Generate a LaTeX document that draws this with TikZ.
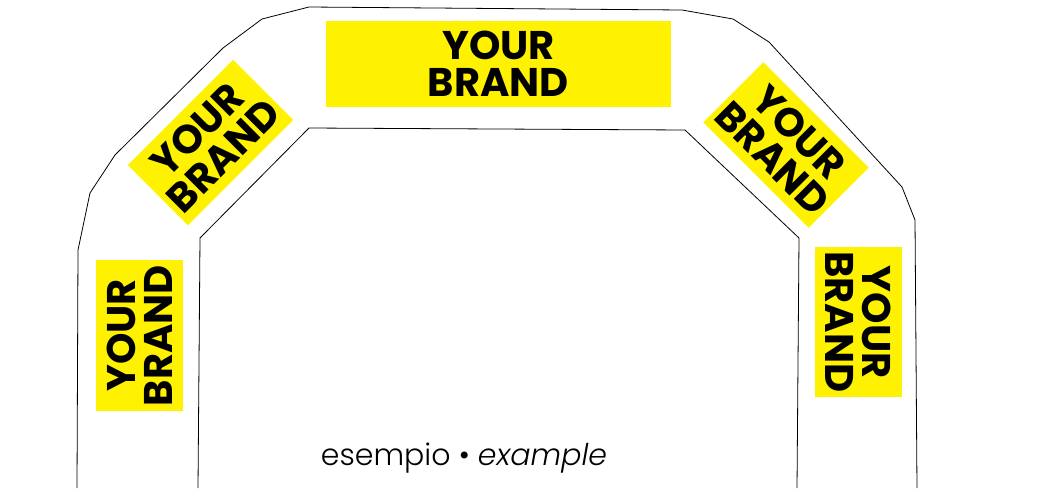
\documentclass[tikz,border=0pt]{standalone}
\usepackage{fontspec}
\newfontfamily\brandfont{Poppins}
\newfontfamily\capfont{Poppins}[UprightFont={* Light},ItalicFont={* Light Italic}]
\definecolor{brandyellow}{RGB}{255,242,0}
\tikzset{
  outline/.style={draw=black,line width=0.8pt,line join=round},
  brandbox/.style={fill=brandyellow,inner sep=0pt,align=center,
    font=\brandfont\bfseries\fontsize{40}{37}\selectfont},
}
\begin{document}
\begin{tikzpicture}[x=1pt,y=-1pt]
\useasboundingbox (0,0) rectangle (1054,488);
% outlines
\draw[outline] (77,488) -- (78,250) -- (90,193) -- (115,155) -- (223,48) -- (262,19) -- (309,7)
  -- (682,10) -- (733,19) -- (769,42) -- (902,187) -- (915,220) -- (917,488);
\draw[outline] (198,488) -- (200,238) -- (309,128) -- (685,130) -- (799,238) -- (797,488);
% brand boxes
\node[brandbox,minimum width=345pt,minimum height=86pt] (top) at (498.5,64) {YOUR\\BRAND};
\node[brandbox,minimum width=149pt,minimum height=85pt,rotate=45] (ul) at (210.5,142.5) {YOUR\\BRAND};
\node[brandbox,minimum width=149pt,minimum height=85pt,rotate=-45] (ur) at (786,145) {YOUR\\BRAND};
\node[brandbox,minimum width=151pt,minimum height=87pt,rotate=90] (ll) at (139.5,335.5) {YOUR\\BRAND};
\node[brandbox,minimum width=150pt,minimum height=87pt,rotate=-90] (lr) at (858.5,322) {YOUR\\BRAND};
% caption
\node[font=\capfont\fontsize{30}{34}\selectfont,inner sep=0pt,anchor=base] (cap) at (464,465) {esempio • \textit{example}};
\end{tikzpicture}
\end{document}
